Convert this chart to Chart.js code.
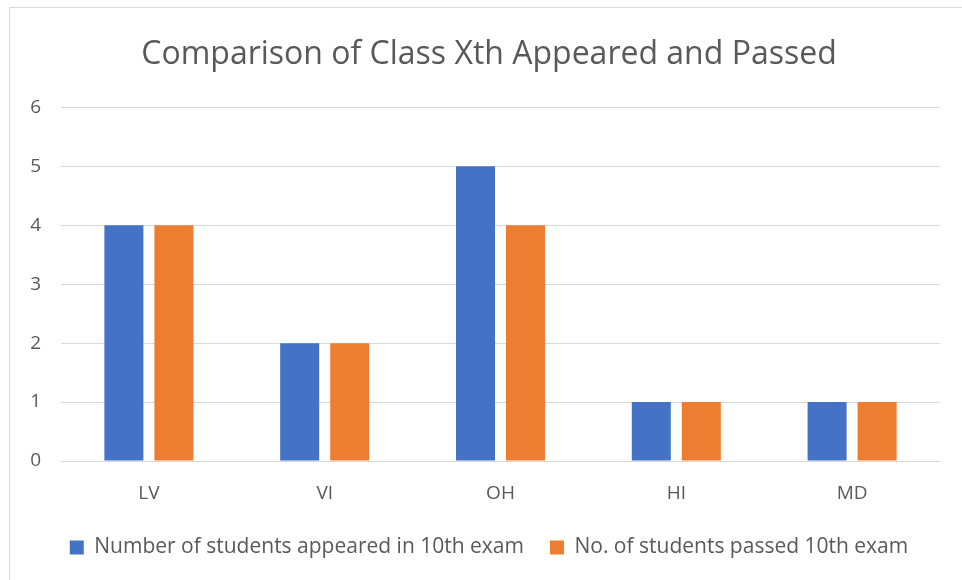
<!DOCTYPE html>
<html>
<head>
<meta charset="utf-8">
<script src="https://cdn.jsdelivr.net/npm/chart.js@4"></script>
<style>
  html, body { margin: 0; padding: 0; background: #fff; overflow: hidden; }
  #frame { position: absolute; left: 9px; top: 7px; width: 960px; height: 580px; border: 1px solid #d9d9d9; }
  #chart { position: absolute; left: 0; top: 0; }
</style>
</head>
<body>
<div id="frame"></div>
<canvas id="chart" width="980" height="580"></canvas>
<script>
// categories and values
const categories = ["LV", "VI", "OH", "HI", "MD"];
const appeared = [4, 2, 5, 1, 1];
const passed = [4, 2, 4, 1, 1];
const yTicks = [0, 1, 2, 3, 4, 5, 6];

const FONT = "'Open Sans', Lato, sans-serif";
const TEXT = "#595959";
const GRID = "#d9d9d9";

new Chart(document.getElementById("chart").getContext("2d"), {
  type: "bar",
  data: {
    labels: categories,
    datasets: [
      { label: "Number of students appeared in 10th exam", data: appeared, backgroundColor: "#4472C4" },
      { label: "No. of students passed 10th exam", data: passed, backgroundColor: "#ED7D31" }
    ]
  },
  options: {
    responsive: false,
    animation: false,
    categoryPercentage: 0.569,
    barPercentage: 0.78,
    // canvas runs past the window so title/legend centre on the outer frame
    layout: { padding: { left: 0, right: 2, top: 0, bottom: 12 } },
    plugins: {
      title: {
        display: true,
        text: "Comparison of Class Xth Appeared and Passed",
        color: TEXT,
        font: { family: FONT, size: 32, weight: "normal" },
        padding: { top: 36, bottom: 33 }
      },
      legend: {
        position: "bottom",
        labels: {
          color: TEXT,
          font: { family: FONT, size: 21 },
          boxWidth: 14,
          boxHeight: 14,
          padding: 26
        }
      },
      tooltip: { enabled: false }
    },
    scales: {
      x: {
        grid: { display: false, drawTicks: false },
        border: { color: GRID },
        ticks: { color: TEXT, font: { family: FONT, size: 19 }, padding: 21 },
        afterFit: (scale) => { scale.height = 50; }
      },
      y: {
        min: 0,
        max: 6,
        afterBuildTicks: (scale) => { scale.ticks = yTicks.map(v => ({ value: v })); },
        grid: { color: GRID, drawTicks: false },
        border: { display: false },
        ticks: { color: TEXT, font: { family: FONT, size: 19 }, padding: 20 },
        afterFit: (scale) => { scale.width = 61; }
      },
      // empty right axis, only reserves space
      spacer: {
        position: "right",
        min: 0,
        max: 6,
        grid: { display: false, drawTicks: false },
        border: { display: false },
        ticks: { display: false },
        afterFit: (scale) => { scale.width = 38; }
      }
    }
  }
});
</script>
</body>
</html>
